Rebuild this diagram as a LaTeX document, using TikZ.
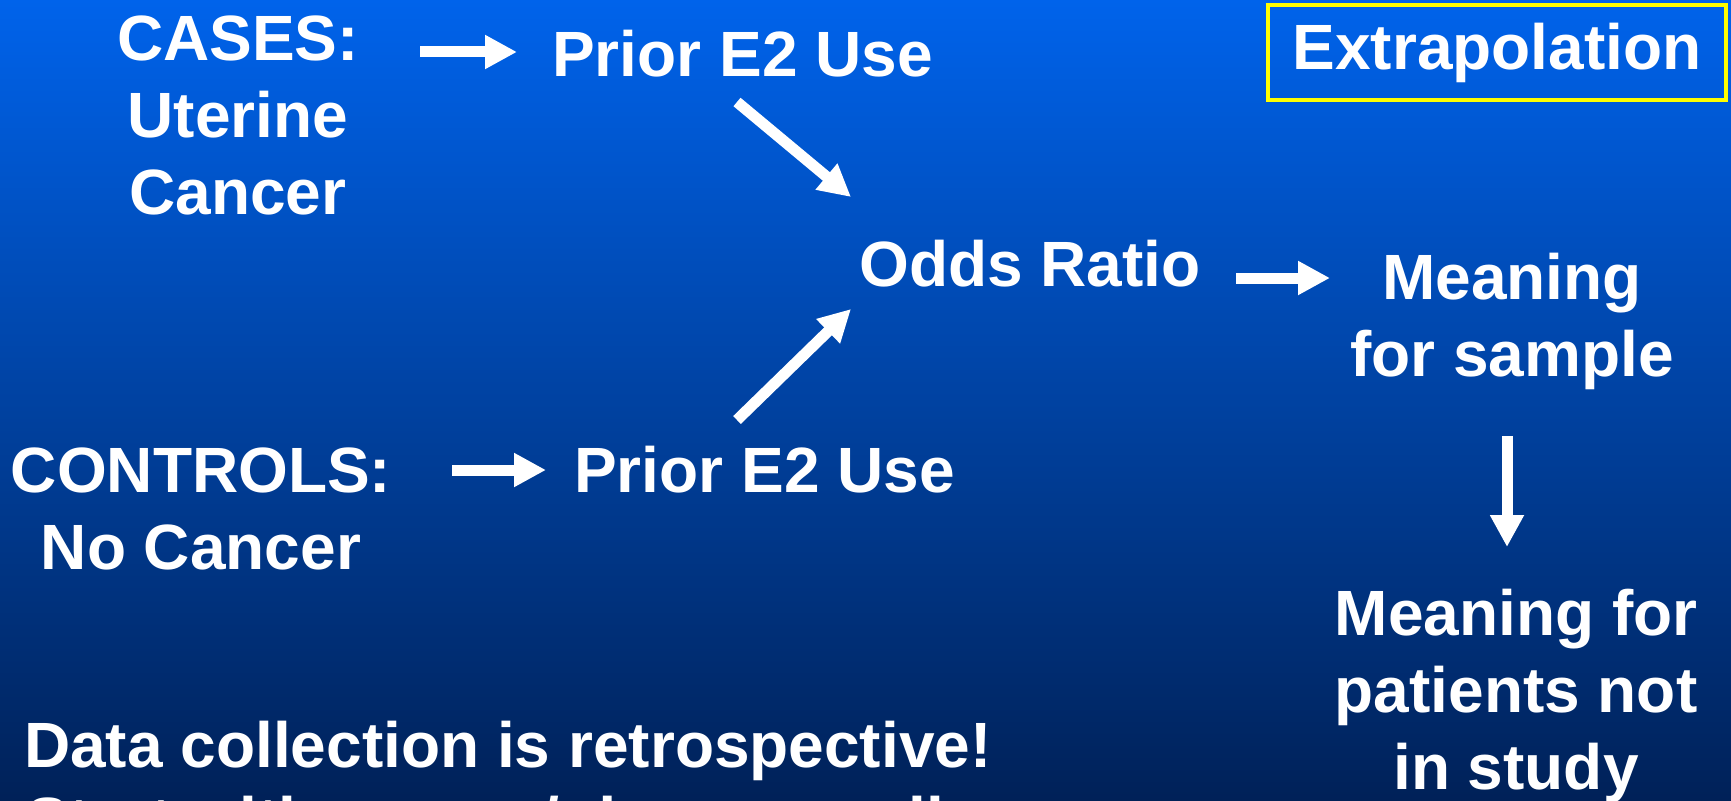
\documentclass[tikz,border=0pt]{standalone}
\usepackage{fontspec}
\setmainfont{Liberation Sans}
\usetikzlibrary{arrows.meta}
\definecolor{bgtop}{RGB}{0,99,235}
\definecolor{bgmid}{RGB}{0,68,168}
\definecolor{bgbot}{RGB}{0,33,88}
\definecolor{boxyellow}{RGB}{255,255,0}
\tikzset{
  lbl/.style={text=white, font=\fontsize{64}{77}\selectfont\bfseries, inner sep=0pt},
  ml/.style={lbl, align=center, anchor=north},
  sl/.style={lbl, anchor=base west},
  arr/.style={white, line width=11pt, -{Triangle[length=32pt,width=32pt]}},
  framebox/.style={lbl, draw=boxyellow, line width=4.5pt, minimum width=458pt, minimum height=95pt},
}
\begin{document}
\begin{tikzpicture}[x=1pt,y=-1pt]
\shade[top color=bgtop, middle color=bgmid, bottom color=bgbot] (0,0) rectangle (1731,800);
\useasboundingbox (0,0) rectangle (1731,800);
\clip (0,0) rectangle (1731,800);

% text nodes
\node[ml] (cases) at (238,6.1) {\strut CASES:\\Uterine\\Cancer};
\node[sl] (p1) at (552,76) {Prior E2 Use};
\node[sl] (or) at (859,286) {Odds Ratio};
\node[ml] (controls) at (201,438.1) {\strut CONTROLS:\\No Cancer};
\node[sl] (p2) at (574,492) {Prior E2 Use};
\node[ml] (msample) at (1512,245.1) {\strut Meaning\\for sample};
\node[ml] (mpat) at (1516,581.1) {\strut Meaning for\\patients not\\in study};
\node[framebox] (extra) at (1497,52.5) {Extrapolation};
\node[sl] (data) at (24,767) {Data collection is retrospective!};
\node[sl] (start) at (26,842) {Start with cancer/ do we recall};

% arrow end points
\coordinate (a1s) at (420,52);  \coordinate (a1e) at (517,52);
\coordinate (a2s) at (737,102); \coordinate (a2e) at (851,197);
\coordinate (a3s) at (1236,278); \coordinate (a3e) at (1330,278);
\coordinate (a4s) at (737,420); \coordinate (a4e) at (851,309);
\coordinate (a5s) at (452,470); \coordinate (a5e) at (546,470);
\coordinate (a6s) at (1507,436); \coordinate (a6e) at (1507,547);

\draw[arr] (a1s) -- (a1e);
\draw[arr] (a2s) -- (a2e);
\draw[arr] (a3s) -- (a3e);
\draw[arr] (a4s) -- (a4e);
\draw[arr] (a5s) -- (a5e);
\draw[arr] (a6s) -- (a6e);
\end{tikzpicture}
\end{document}
